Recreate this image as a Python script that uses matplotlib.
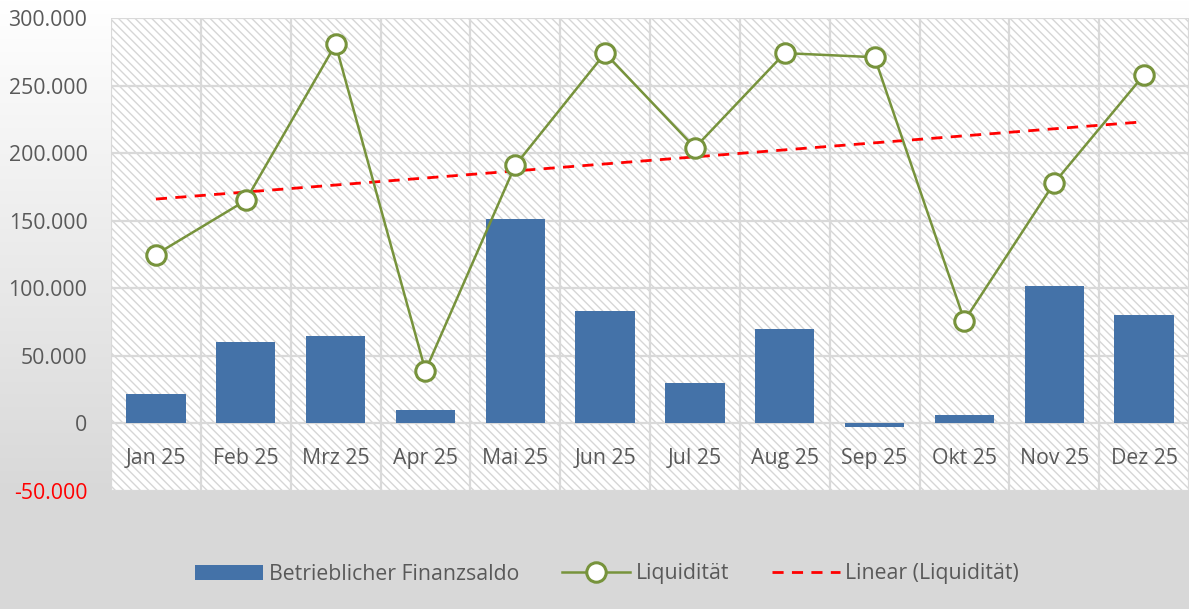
import numpy as np
import matplotlib
matplotlib.use("Agg")
import matplotlib.pyplot as plt
from matplotlib.patches import Rectangle, Patch
from matplotlib.lines import Line2D

plt.rcParams['font.family'] = ['Open Sans', 'DejaVu Sans']
plt.rcParams['hatch.linewidth'] = 1.0

months = ['Jan 25', 'Feb 25', 'Mrz 25', 'Apr 25', 'Mai 25', 'Jun 25',
          'Jul 25', 'Aug 25', 'Sep 25', 'Okt 25', 'Nov 25', 'Dez 25']
finanzsaldo = [22000, 60000, 65000, 10000, 151000, 83000,
               30000, 70000, -2500, 6000, 102000, 80000]
liquiditaet = [125000, 165000, 280500, 39000, 191000, 274000,
               204000, 274000, 271000, 76000, 178000, 258000]
y_ticks = [-50000, 0, 50000, 100000, 150000, 200000, 250000, 300000]

text_col = '#595959'
grid_col = '#d9d9d9'
bar_col = '#4472a8'
line_col = '#77933c'
fs = 15.3

fig = plt.figure(figsize=(11.89, 6.09), dpi=100)

# background gradient (white at top -> light grey at bottom)
bg = fig.add_axes([0, 0, 1, 1], zorder=-10)
grad = np.linspace(0, 1, 300).reshape(-1, 1)
grad = np.clip(grad * 1.25, 0, 1)
col = 1.0 - grad * (1.0 - 0.85)
bg.imshow(np.dstack([col, col, col]), aspect='auto', extent=[0, 1, 0, 1], origin='upper')
bg.axis('off')

ax = fig.add_axes([111 / 1189, 1 - 491 / 609, 1078 / 1189, 473 / 609])
ax.set_facecolor('white')
ax.add_patch(Rectangle((0, 0), 1, 1, transform=ax.transAxes, facecolor='white',
                       edgecolor='#d6d6d6', hatch='\\\\\\\\', linewidth=0, zorder=0))

x = np.arange(len(months))
ax.set_xlim(-0.5, len(months) - 0.5)
ax.set_ylim(-50000, 300000)

# grid
for yt in y_ticks:
    ax.axhline(yt, color=grid_col, lw=1.6, zorder=1)
for b in np.arange(-0.5, len(months) + 0.5, 1):
    ax.axvline(b, color=grid_col, lw=1.6, zorder=1)

ax.bar(x, finanzsaldo, width=0.66, color=bar_col, zorder=3)

ax.plot(x, liquiditaet, color=line_col, lw=1.8, marker='o', markersize=14,
        markerfacecolor='white', markeredgecolor=line_col, markeredgewidth=2.2, zorder=5)

slope, inter = np.polyfit(x, liquiditaet, 1)
ax.plot(x, slope * x + inter, color='red', lw=2, ls=(0, (4, 3)), zorder=4)

for i, m in enumerate(months):
    ax.text(i, -26000, m, ha='center', va='center', fontsize=fs, color=text_col, zorder=6)

ax.set_xticks([])
ax.set_yticks(y_ticks)
labels = ['{:,}'.format(v).replace(',', '.') for v in y_ticks]
ax.set_yticklabels(labels, fontsize=fs, color=text_col)
ax.get_yticklabels()[0].set_color('red')
ax.tick_params(axis='y', length=0, pad=17)
for s in ax.spines.values():
    s.set_visible(False)

handles = [Patch(facecolor=bar_col, edgecolor='none'),
           Line2D([], [], color=line_col, lw=1.8, marker='o', markersize=14,
                  markerfacecolor='white', markeredgecolor=line_col, markeredgewidth=2.2),
           Line2D([], [], color='red', lw=2, ls=(0, (4, 3)))]
fig.legend(handles, ['Betrieblicher Finanzsaldo', 'Liquidität', 'Linear (Liquidität)'],
           loc='center', bbox_to_anchor=(607 / 1189, 1 - 574 / 609), ncol=3, frameon=False,
           fontsize=fs, labelcolor=text_col, handlelength=3.2, handleheight=0.7,
           columnspacing=2.0, handletextpad=0.28)

fig.savefig('out.png', dpi=100)
